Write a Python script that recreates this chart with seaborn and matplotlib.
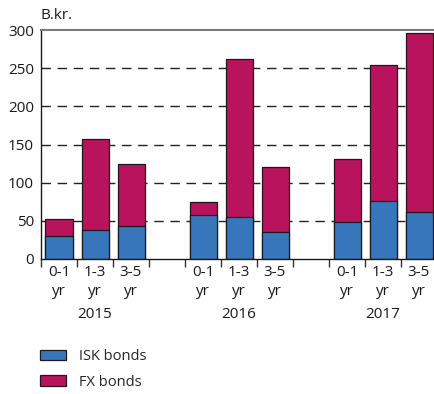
import matplotlib
matplotlib.use("Agg")
import matplotlib.pyplot as plt
from matplotlib.patches import Patch
from matplotlib.ticker import FixedLocator
import seaborn as sns
import pandas as pd

# Maturity profile of bonds, B.kr.
years = ["2015", "2016", "2017"]
maturities = ["0-1", "1-3", "3-5"]
isk_bonds = [30.5, 37.5, 43, 58, 54.5, 35, 49, 76.5, 61.5]
fx_bonds = [21.5, 119.5, 81.5, 17, 208, 86, 82, 177.5, 235]
y_ticks = [0, 50, 100, 150, 200, 250, 300]

ISK_COLOR = "#3876bb"
FX_COLOR = "#ba135d"

sns.set_theme(style="white")
plt.rcParams["font.family"] = ["Open Sans", "DejaVu Sans"]
plt.rcParams["font.size"] = 10

# One slot per bar, with an empty slot between years
keys = [f"{y} {m}" for y in years for m in maturities]
order = []
for i, y in enumerate(years):
    order += [f"{y} {m}" for m in maturities]
    if i < len(years) - 1:
        order.append(f"gap{i}")

df = pd.DataFrame({
    "key": keys,
    "isk": isk_bonds,
    "total": [a + b for a, b in zip(isk_bonds, fx_bonds)],
})

fig = plt.figure(figsize=(4.35, 3.94), dpi=100)
ax = fig.add_axes([41 / 435, 1 - 259 / 394, 396 / 435, 229 / 394])

# Stacked bars: total height in FX colour, ISK share drawn over its base
sns.barplot(data=df, x="key", y="total", order=order, color=FX_COLOR,
            saturation=1, width=0.75, edgecolor="#1a1a1a", linewidth=0.9, ax=ax)
sns.barplot(data=df, x="key", y="isk", order=order, color=ISK_COLOR,
            saturation=1, width=0.75, edgecolor="#1a1a1a", linewidth=0.9, ax=ax)

n = len(order)
ax.set_xlim(-0.5, n - 0.5)
ax.set_ylim(0, 300)
ax.set_yticks(y_ticks)
ax.set_xlabel("")
ax.set_ylabel("")

for v in y_ticks[1:-1]:
    ax.axhline(v, color="#222222", lw=1.0, ls=(0, (6.8, 4.8)), zorder=0)

# Bar labels under each bar, boundary ticks between slots
centers = [order.index(k) for k in keys]
ax.set_xticks(centers)
ax.set_xticklabels([f"{m}\nyr" for _ in years for m in maturities],
                   linespacing=1.4)
ax.xaxis.set_minor_locator(FixedLocator([i - 0.5 for i in range(n + 1)]))
ax.tick_params(axis="x", which="major", length=0, pad=4, labelsize=11,
               colors="#1a1a1a")
ax.tick_params(axis="x", which="minor", length=6, width=1.0, direction="out",
               color="#333333", bottom=True)
ax.tick_params(axis="y", length=0, pad=5, labelsize=11, colors="#1a1a1a")

for i, y in enumerate(years):
    cx = sum(centers[3 * i:3 * i + 3]) / 3
    ax.annotate(y, xy=(cx, 0), xycoords=("data", "axes fraction"),
                xytext=(0, -56), textcoords="offset pixels",
                ha="center", va="center", fontsize=11, color="#1a1a1a")

ax.text(0, 1.03, "B.kr.", transform=ax.transAxes, ha="left", va="bottom",
        fontsize=11, color="#1a1a1a")

for side in ["left", "bottom"]:
    ax.spines[side].set_color("#1a1a1a")
    ax.spines[side].set_linewidth(1.0)
ax.spines["top"].set_color("#7a7a7a")
ax.spines["top"].set_linewidth(1.5)
ax.spines["right"].set_visible(False)

handles = [
    Patch(facecolor=ISK_COLOR, edgecolor="#1a1a1a", linewidth=0.9, label="ISK bonds"),
    Patch(facecolor=FX_COLOR, edgecolor="#1a1a1a", linewidth=0.9, label="FX bonds"),
]
fig.legend(handles=handles, loc="upper left",
           bbox_to_anchor=(40 / 435, 1 - 349 / 394), frameon=False,
           borderpad=0, borderaxespad=0, handlelength=1.8, handleheight=0.7,
           handletextpad=0.9, labelspacing=0.72, fontsize=10.5)

fig.savefig("out.png", dpi=100)
